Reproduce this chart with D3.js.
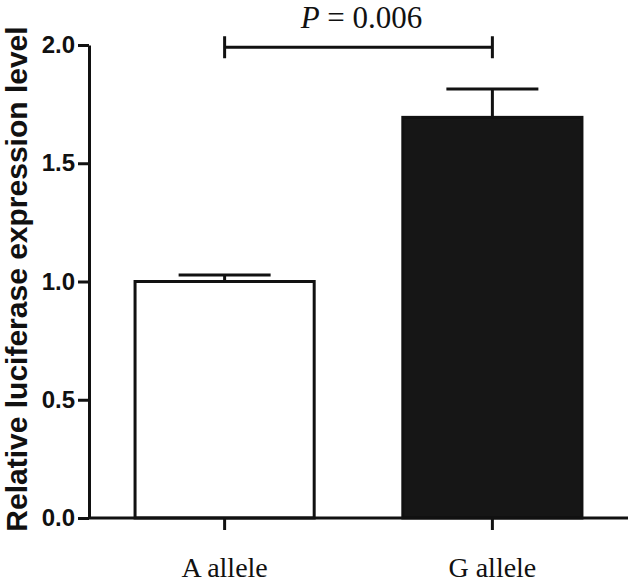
<!DOCTYPE html>
<html>
<head>
<meta charset="utf-8">
<script src="https://cdnjs.cloudflare.com/ajax/libs/d3/7.8.5/d3.min.js"></script>
<style>
  body { margin: 0; background: #fff; }
  .tick line, .domain { stroke: #111; stroke-width: 3; }
</style>
</head>
<body>
<svg id="chart" width="630" height="584"></svg>
<script>
// data
var categories = ["A allele", "G allele"];
var means = [1.0, 1.694];
var errors = [0.027, 0.12];
var fills = ["#ffffff", "#161616"];
var yTicks = [0, 0.5, 1.0, 1.5, 2.0];
var pLabel = "P = 0.006";
var bracketLevel = 1.99;

var svg = d3.select("#chart");
var plotLeft = 89, plotRight = 628, plotTop = 45, plotBottom = 518;

var y = d3.scaleLinear().domain([0, 2]).range([plotBottom, plotTop]);
var x = d3.scaleBand().domain(categories).range([plotLeft, plotRight])
          .paddingInner(0.331).paddingOuter(0.172);

// bars
svg.selectAll("rect.bar").data(categories).enter().append("rect")
   .attr("class", "bar")
   .attr("x", function(d) { return x(d); })
   .attr("y", function(d, i) { return y(means[i]); })
   .attr("width", x.bandwidth())
   .attr("height", function(d, i) { return y(0) - y(means[i]); })
   .attr("fill", function(d, i) { return fills[i]; })
   .attr("stroke", "#111")
   .attr("stroke-width", 3);

// error bars (upper only)
var capHalf = 46;
categories.forEach(function(c, i) {
    var cx = x(c) + x.bandwidth() / 2;
    svg.append("line").attr("x1", cx).attr("x2", cx)
       .attr("y1", y(means[i])).attr("y2", y(means[i] + errors[i]))
       .attr("stroke", "#111").attr("stroke-width", 3);
    svg.append("line").attr("x1", cx - capHalf).attr("x2", cx + capHalf)
       .attr("y1", y(means[i] + errors[i])).attr("y2", y(means[i] + errors[i]))
       .attr("stroke", "#111").attr("stroke-width", 3);
});

// y axis
var yAxis = svg.append("g").attr("transform", "translate(" + plotLeft + ",0)")
   .call(d3.axisLeft(y).tickValues(yTicks).tickFormat(d3.format(".1f"))
          .tickSize(11).tickSizeOuter(0).tickPadding(3));
yAxis.selectAll("text")
   .attr("font-family", "'Liberation Sans', Arial, sans-serif")
   .attr("font-weight", "bold").attr("font-size", 24).attr("fill", "#111");

// x axis
var xAxis = svg.append("g").attr("transform", "translate(0," + plotBottom + ")")
   .call(d3.axisBottom(x).tickSize(12).tickSizeOuter(0));
xAxis.select(".domain").attr("d", "M" + plotLeft + ",0H" + plotRight);
xAxis.selectAll("text")
   .attr("y", 59).attr("dy", 0)
   .attr("font-family", "'Liberation Serif', 'Times New Roman', serif")
   .attr("font-size", 28).attr("fill", "#111");

// y axis title
svg.append("text")
   .attr("transform", "translate(27," + (35 + 523) / 2 + ") rotate(-90)")
   .attr("text-anchor", "middle")
   .attr("font-family", "'Liberation Sans', Arial, sans-serif")
   .attr("font-weight", "bold").attr("font-size", 30).attr("fill", "#111")
   .text("Relative luciferase expression level");

// significance bracket
var x1 = x(categories[0]) + x.bandwidth() / 2;
var x2 = x(categories[1]) + x.bandwidth() / 2;
var by = y(bracketLevel);
svg.append("path")
   .attr("d", "M" + x1 + "," + (by - 11) + "V" + (by + 11) + "M" + x1 + "," + by +
              "H" + x2 + "M" + x2 + "," + (by - 11) + "V" + (by + 11))
   .attr("fill", "none").attr("stroke", "#111").attr("stroke-width", 3);

var pt = svg.append("text")
   .attr("x", (x1 + x2) / 2 + 3).attr("y", 28)
   .attr("text-anchor", "middle")
   .attr("font-family", "'Liberation Serif', 'Times New Roman', serif")
   .attr("font-size", 31).attr("fill", "#111");
pt.append("tspan").attr("font-style", "italic").text(pLabel.slice(0, 1));
pt.append("tspan").text(pLabel.slice(1));
</script>
</body>
</html>
